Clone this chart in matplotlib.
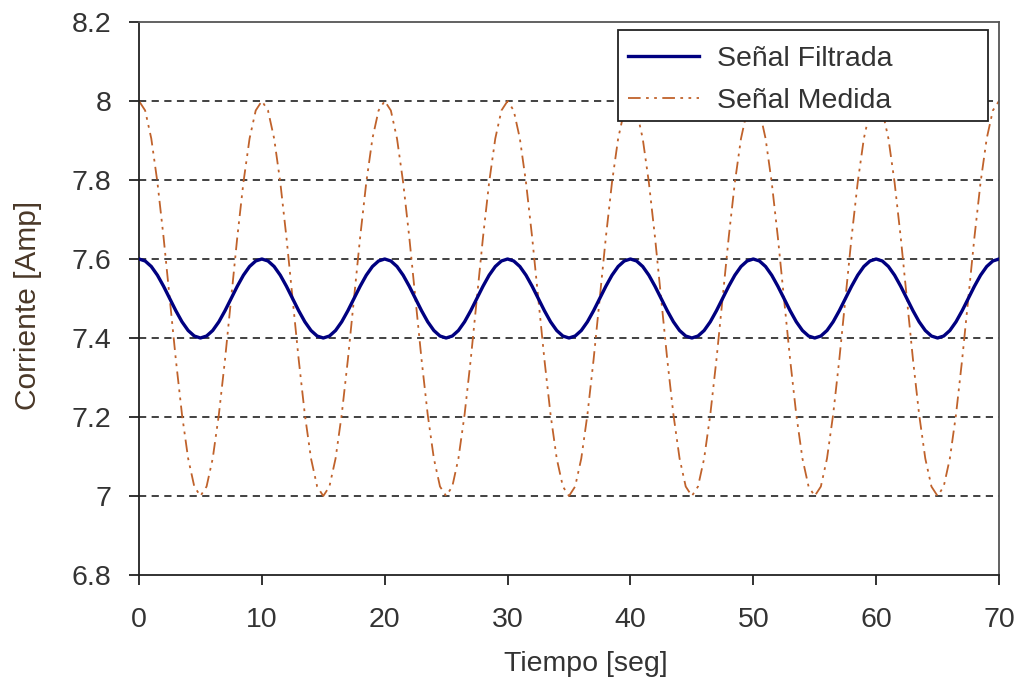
import matplotlib
matplotlib.use("Agg")
import matplotlib.pyplot as plt
from matplotlib.patches import Rectangle

# Sample times [seg]
tiempo = [
    0.0, 0.5, 1.0, 1.5, 2.0, 2.5, 3.0, 3.5, 4.0, 4.5, 5.0, 5.5, 6.0, 6.5, 7.0, 7.5, 8.0, 8.5, 9.0, 9.5,
    10.0, 10.5, 11.0, 11.5, 12.0, 12.5, 13.0, 13.5, 14.0, 14.5, 15.0, 15.5, 16.0, 16.5, 17.0, 17.5, 18.0, 18.5, 19.0, 19.5,
    20.0, 20.5, 21.0, 21.5, 22.0, 22.5, 23.0, 23.5, 24.0, 24.5, 25.0, 25.5, 26.0, 26.5, 27.0, 27.5, 28.0, 28.5, 29.0, 29.5,
    30.0, 30.5, 31.0, 31.5, 32.0, 32.5, 33.0, 33.5, 34.0, 34.5, 35.0, 35.5, 36.0, 36.5, 37.0, 37.5, 38.0, 38.5, 39.0, 39.5,
    40.0, 40.5, 41.0, 41.5, 42.0, 42.5, 43.0, 43.5, 44.0, 44.5, 45.0, 45.5, 46.0, 46.5, 47.0, 47.5, 48.0, 48.5, 49.0, 49.5,
    50.0, 50.5, 51.0, 51.5, 52.0, 52.5, 53.0, 53.5, 54.0, 54.5, 55.0, 55.5, 56.0, 56.5, 57.0, 57.5, 58.0, 58.5, 59.0, 59.5,
    60.0, 60.5, 61.0, 61.5, 62.0, 62.5, 63.0, 63.5, 64.0, 64.5, 65.0, 65.5, 66.0, 66.5, 67.0, 67.5, 68.0, 68.5, 69.0, 69.5,
    70.0,
]

# Filtered signal [Amp]
senal_filtrada = [
    7.600, 7.595, 7.581, 7.559, 7.531, 7.500, 7.469, 7.441, 7.419, 7.405, 7.400, 7.405, 7.419, 7.441, 7.469, 7.500, 7.531, 7.559, 7.581, 7.595,
    7.600, 7.595, 7.581, 7.559, 7.531, 7.500, 7.469, 7.441, 7.419, 7.405, 7.400, 7.405, 7.419, 7.441, 7.469, 7.500, 7.531, 7.559, 7.581, 7.595,
    7.600, 7.595, 7.581, 7.559, 7.531, 7.500, 7.469, 7.441, 7.419, 7.405, 7.400, 7.405, 7.419, 7.441, 7.469, 7.500, 7.531, 7.559, 7.581, 7.595,
    7.600, 7.595, 7.581, 7.559, 7.531, 7.500, 7.469, 7.441, 7.419, 7.405, 7.400, 7.405, 7.419, 7.441, 7.469, 7.500, 7.531, 7.559, 7.581, 7.595,
    7.600, 7.595, 7.581, 7.559, 7.531, 7.500, 7.469, 7.441, 7.419, 7.405, 7.400, 7.405, 7.419, 7.441, 7.469, 7.500, 7.531, 7.559, 7.581, 7.595,
    7.600, 7.595, 7.581, 7.559, 7.531, 7.500, 7.469, 7.441, 7.419, 7.405, 7.400, 7.405, 7.419, 7.441, 7.469, 7.500, 7.531, 7.559, 7.581, 7.595,
    7.600, 7.595, 7.581, 7.559, 7.531, 7.500, 7.469, 7.441, 7.419, 7.405, 7.400, 7.405, 7.419, 7.441, 7.469, 7.500, 7.531, 7.559, 7.581, 7.595,
    7.600,
]

# Measured signal [Amp]
senal_medida = [
    8.000, 7.976, 7.905, 7.794, 7.655, 7.500, 7.345, 7.206, 7.095, 7.024, 7.000, 7.024, 7.095, 7.206, 7.345, 7.500, 7.655, 7.794, 7.905, 7.976,
    8.000, 7.976, 7.905, 7.794, 7.655, 7.500, 7.345, 7.206, 7.095, 7.024, 7.000, 7.024, 7.095, 7.206, 7.345, 7.500, 7.655, 7.794, 7.905, 7.976,
    8.000, 7.976, 7.905, 7.794, 7.655, 7.500, 7.345, 7.206, 7.095, 7.024, 7.000, 7.024, 7.095, 7.206, 7.345, 7.500, 7.655, 7.794, 7.905, 7.976,
    8.000, 7.976, 7.905, 7.794, 7.655, 7.500, 7.345, 7.206, 7.095, 7.024, 7.000, 7.024, 7.095, 7.206, 7.345, 7.500, 7.655, 7.794, 7.905, 7.976,
    8.000, 7.976, 7.905, 7.794, 7.655, 7.500, 7.345, 7.206, 7.095, 7.024, 7.000, 7.024, 7.095, 7.206, 7.345, 7.500, 7.655, 7.794, 7.905, 7.976,
    8.000, 7.976, 7.905, 7.794, 7.655, 7.500, 7.345, 7.206, 7.095, 7.024, 7.000, 7.024, 7.095, 7.206, 7.345, 7.500, 7.655, 7.794, 7.905, 7.976,
    8.000, 7.976, 7.905, 7.794, 7.655, 7.500, 7.345, 7.206, 7.095, 7.024, 7.000, 7.024, 7.095, 7.206, 7.345, 7.500, 7.655, 7.794, 7.905, 7.976,
    8.000,
]

x_ticks = [0, 10, 20, 30, 40, 50, 60, 70]
y_ticks = [6.8, 7.0, 7.2, 7.4, 7.6, 7.8, 8.0, 8.2]
y_tick_labels = ["6.8", "7", "7.2", "7.4", "7.6", "7.8", "8", "8.2"]
grid_levels = [7.0, 7.2, 7.4, 7.6, 7.8, 8.0]

plt.rcParams['font.family'] = ['Liberation Sans', 'DejaVu Sans']

FS = 20.5
TXT = '#333333'
W, H = 1021, 683

fig = plt.figure(figsize=(W / 100, H / 100), dpi=100)
ax = fig.add_axes([139 / W, 1 - 575 / H, (999 - 139) / W, (575 - 22) / H])

for g in grid_levels:
    ax.axhline(g, color='#333333', lw=1.3, linestyle=(0, (4, 3)), zorder=1)

ax.plot(tiempo, senal_medida, color='#C0622B', lw=1.3,
        linestyle=(0, (7, 3, 1.5, 3, 1.5, 3)), label='Señal Medida', zorder=2)
ax.plot(tiempo, senal_filtrada, color='#000080', lw=2.4,
        label='Señal Filtrada', zorder=3)

ax.set_xlim(0, 70)
ax.set_ylim(6.8, 8.2)
ax.set_xticks(x_ticks)
ax.set_yticks(y_ticks)
ax.set_yticklabels(y_tick_labels)
ax.tick_params(axis='both', direction='out', length=7, width=1.3, colors='#222222',
               labelsize=FS, labelcolor=TXT)
ax.tick_params(axis='y', pad=13)
ax.tick_params(axis='x', pad=16)

for side in ['left', 'bottom', 'top', 'right']:
    ax.spines[side].set_color('#222222')
    ax.spines[side].set_linewidth(1.3)
ax.spines['top'].set_color('#555555')
ax.spines['right'].set_color('#555555')

ax.set_xlabel('Tiempo [seg]', fontsize=FS, color=TXT, labelpad=13, x=0.52)
ax.set_ylabel('Corriente [Amp]', fontsize=21.5, color='#4a3828', labelpad=21, y=0.488)

# Legend frame (drawn as a plain box, as in the reference)
frame = Rectangle((618 / W, 1 - 121 / H), (988 - 618) / W, (121 - 30) / H,
                  transform=fig.transFigure, facecolor='white',
                  edgecolor='#222222', linewidth=1.3, zorder=4.5, clip_on=False)
ax.add_patch(frame)

handles, labels = ax.get_legend_handles_labels()
order = [1, 0]
leg = ax.legend([handles[i] for i in order], [labels[i] for i in order],
                loc='upper left', bbox_to_anchor=(628 / W, 1 - 46 / H),
                bbox_transform=fig.transFigure, fontsize=FS, frameon=False,
                borderpad=0, labelspacing=0.55,
                handlelength=2.5, handletextpad=0.62, borderaxespad=0)
leg.set_zorder(6)
for t in leg.get_texts():
    t.set_color(TXT)

fig.savefig('out.png', dpi=100)
